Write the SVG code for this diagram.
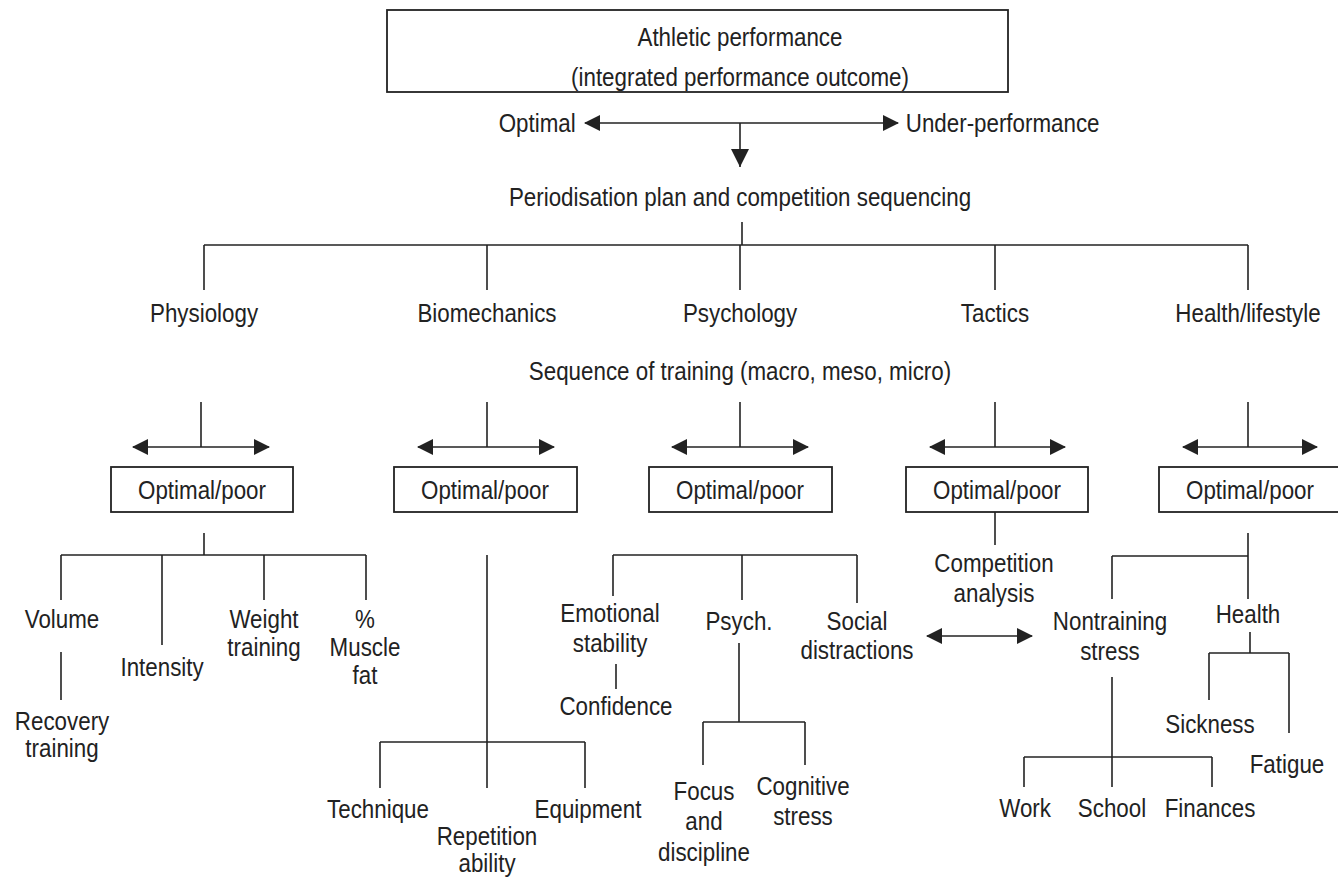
<svg xmlns="http://www.w3.org/2000/svg" width="1338" height="879" viewBox="0 0 1338 879">
<style>
text{font-family:"Liberation Sans",Arial,sans-serif;font-size:26px;fill:#222;text-anchor:middle;transform-box:fill-box;transform-origin:center;transform:scaleX(0.86)}
.c line{stroke:#222;stroke-width:1.6}
.box{fill:#fff;stroke:#222;stroke-width:1.8}
.da{marker-start:url(#ah);marker-end:url(#ah)}
</style>
<defs>
<marker id="ah" markerUnits="userSpaceOnUse" markerWidth="16" markerHeight="16" refX="15" refY="8" orient="auto-start-reverse"><path d="M0,0 L16,8 L0,16 z" fill="#222"/></marker>
<marker id="dn" markerUnits="userSpaceOnUse" markerWidth="18" markerHeight="20" refX="18" refY="9" orient="auto"><path d="M0,0 L18,9 L0,18 z" fill="#222"/></marker>
</defs>
<rect width="1338" height="879" fill="#fff"/>
<g id="connectors" class="c">
<line x1="585" y1="123" x2="898" y2="123" class="da"/>
<line x1="740" y1="123" x2="740" y2="167" marker-end="url(#dn)"/>
<line x1="742" y1="222" x2="742" y2="245"/>
<line x1="204" y1="245" x2="1248" y2="245"/>
<line x1="204" y1="245" x2="204" y2="290"/>
<line x1="487" y1="245" x2="487" y2="290"/>
<line x1="740" y1="245" x2="740" y2="290"/>
<line x1="995" y1="245" x2="995" y2="290"/>
<line x1="1248" y1="245" x2="1248" y2="290"/>
<line x1="201" y1="402" x2="201" y2="447"/>
<line x1="487" y1="402" x2="487" y2="447"/>
<line x1="740" y1="402" x2="740" y2="447"/>
<line x1="995" y1="402" x2="995" y2="447"/>
<line x1="1248" y1="402" x2="1248" y2="447"/>
<line x1="133" y1="447" x2="269" y2="447" class="da"/>
<line x1="418" y1="447" x2="554" y2="447" class="da"/>
<line x1="672" y1="447" x2="808" y2="447" class="da"/>
<line x1="930" y1="447" x2="1065" y2="447" class="da"/>
<line x1="1183" y1="447" x2="1317" y2="447" class="da"/>
<line x1="204" y1="533" x2="204" y2="555"/>
<line x1="61" y1="555" x2="366" y2="555"/>
<line x1="61" y1="555" x2="61" y2="600"/>
<line x1="162" y1="555" x2="162" y2="645"/>
<line x1="264" y1="555" x2="264" y2="600"/>
<line x1="366" y1="555" x2="366" y2="600"/>
<line x1="61" y1="652" x2="61" y2="700"/>
<line x1="487" y1="555" x2="487" y2="742"/>
<line x1="380" y1="742" x2="585" y2="742"/>
<line x1="380" y1="742" x2="380" y2="788"/>
<line x1="487" y1="742" x2="487" y2="788"/>
<line x1="585" y1="742" x2="585" y2="788"/>
<line x1="613" y1="555" x2="857" y2="555"/>
<line x1="613" y1="555" x2="613" y2="596"/>
<line x1="742" y1="555" x2="742" y2="600"/>
<line x1="857" y1="555" x2="857" y2="603"/>
<line x1="616" y1="664" x2="616" y2="689"/>
<line x1="739" y1="643" x2="739" y2="722"/>
<line x1="703" y1="722" x2="805" y2="722"/>
<line x1="703" y1="722" x2="703" y2="765"/>
<line x1="805" y1="722" x2="805" y2="765"/>
<line x1="995" y1="512" x2="995" y2="545"/>
<line x1="927" y1="636" x2="1032" y2="636" class="da"/>
<line x1="1248" y1="533" x2="1248" y2="599"/>
<line x1="1112" y1="556" x2="1248" y2="556"/>
<line x1="1112" y1="556" x2="1112" y2="599"/>
<line x1="1250" y1="632" x2="1250" y2="653"/>
<line x1="1209" y1="653" x2="1289" y2="653"/>
<line x1="1209" y1="653" x2="1209" y2="700"/>
<line x1="1289" y1="653" x2="1289" y2="733"/>
<line x1="1112" y1="677" x2="1112" y2="787"/>
<line x1="1024" y1="757" x2="1212" y2="757"/>
<line x1="1024" y1="757" x2="1024" y2="787"/>
<line x1="1212" y1="757" x2="1212" y2="787"/>
</g>
<g id="athletic"><rect class="box" x="387" y="10" width="621" height="82"/><text x="740" y="46">Athletic performance</text><text x="740" y="86">(integrated performance outcome)</text></g>
<g id="optimal"><text x="582" y="132" style="text-anchor:end">Optimal</text></g>
<g id="under"><text x="890" y="132" style="text-anchor:start">Under-performance</text></g>
<g id="periodisation"><text x="740" y="206">Periodisation plan and competition sequencing</text></g>
<g id="physiology"><text x="204" y="322">Physiology</text></g>
<g id="biomechanics"><text x="487" y="322">Biomechanics</text></g>
<g id="psychology"><text x="740" y="322">Psychology</text></g>
<g id="tactics"><text x="995" y="322">Tactics</text></g>
<g id="health-lifestyle"><text x="1248" y="322">Health/lifestyle</text></g>
<g id="sequence"><text x="740" y="380">Sequence of training (macro, meso, micro)</text></g>
<g id="op1"><rect class="box" x="111" y="467" width="182" height="45"/><text x="202" y="499">Optimal/poor</text></g>
<g id="op2"><rect class="box" x="394" y="467" width="183" height="45"/><text x="485" y="499">Optimal/poor</text></g>
<g id="op3"><rect class="box" x="649" y="467" width="183" height="45"/><text x="740" y="499">Optimal/poor</text></g>
<g id="op4"><rect class="box" x="906" y="467" width="182" height="45"/><text x="997" y="499">Optimal/poor</text></g>
<g id="op5"><rect class="box" x="1159" y="467" width="183" height="45"/><text x="1250" y="499">Optimal/poor</text></g>
<g id="volume"><text x="62" y="628">Volume</text></g>
<g id="recovery"><text x="62" y="730">Recovery</text><text x="62" y="757">training</text></g>
<g id="intensity"><text x="162" y="676">Intensity</text></g>
<g id="weight"><text x="264" y="628">Weight</text><text x="264" y="656">training</text></g>
<g id="muscle"><text x="365" y="628">%</text><text x="365" y="656">Muscle</text><text x="365" y="684">fat</text></g>
<g id="technique"><text x="378" y="818">Technique</text></g>
<g id="repetition"><text x="487" y="845">Repetition</text><text x="487" y="872">ability</text></g>
<g id="equipment"><text x="588" y="818">Equipment</text></g>
<g id="emotional"><text x="610" y="622">Emotional</text><text x="610" y="652">stability</text></g>
<g id="confidence"><text x="616" y="715">Confidence</text></g>
<g id="psych"><text x="739" y="630">Psych.</text></g>
<g id="social"><text x="857" y="630">Social</text><text x="857" y="659">distractions</text></g>
<g id="focus"><text x="704" y="800">Focus</text><text x="704" y="830">and</text><text x="704" y="861">discipline</text></g>
<g id="cognitive"><text x="803" y="795">Cognitive</text><text x="803" y="825">stress</text></g>
<g id="competition"><text x="994" y="572">Competition</text><text x="994" y="602">analysis</text></g>
<g id="nontraining"><text x="1110" y="630">Nontraining</text><text x="1110" y="660">stress</text></g>
<g id="health"><text x="1248" y="623">Health</text></g>
<g id="sickness"><text x="1210" y="733">Sickness</text></g>
<g id="fatigue"><text x="1287" y="773">Fatigue</text></g>
<g id="work"><text x="1025" y="817">Work</text></g>
<g id="school"><text x="1112" y="817">School</text></g>
<g id="finances"><text x="1210" y="817">Finances</text></g>
</svg>
